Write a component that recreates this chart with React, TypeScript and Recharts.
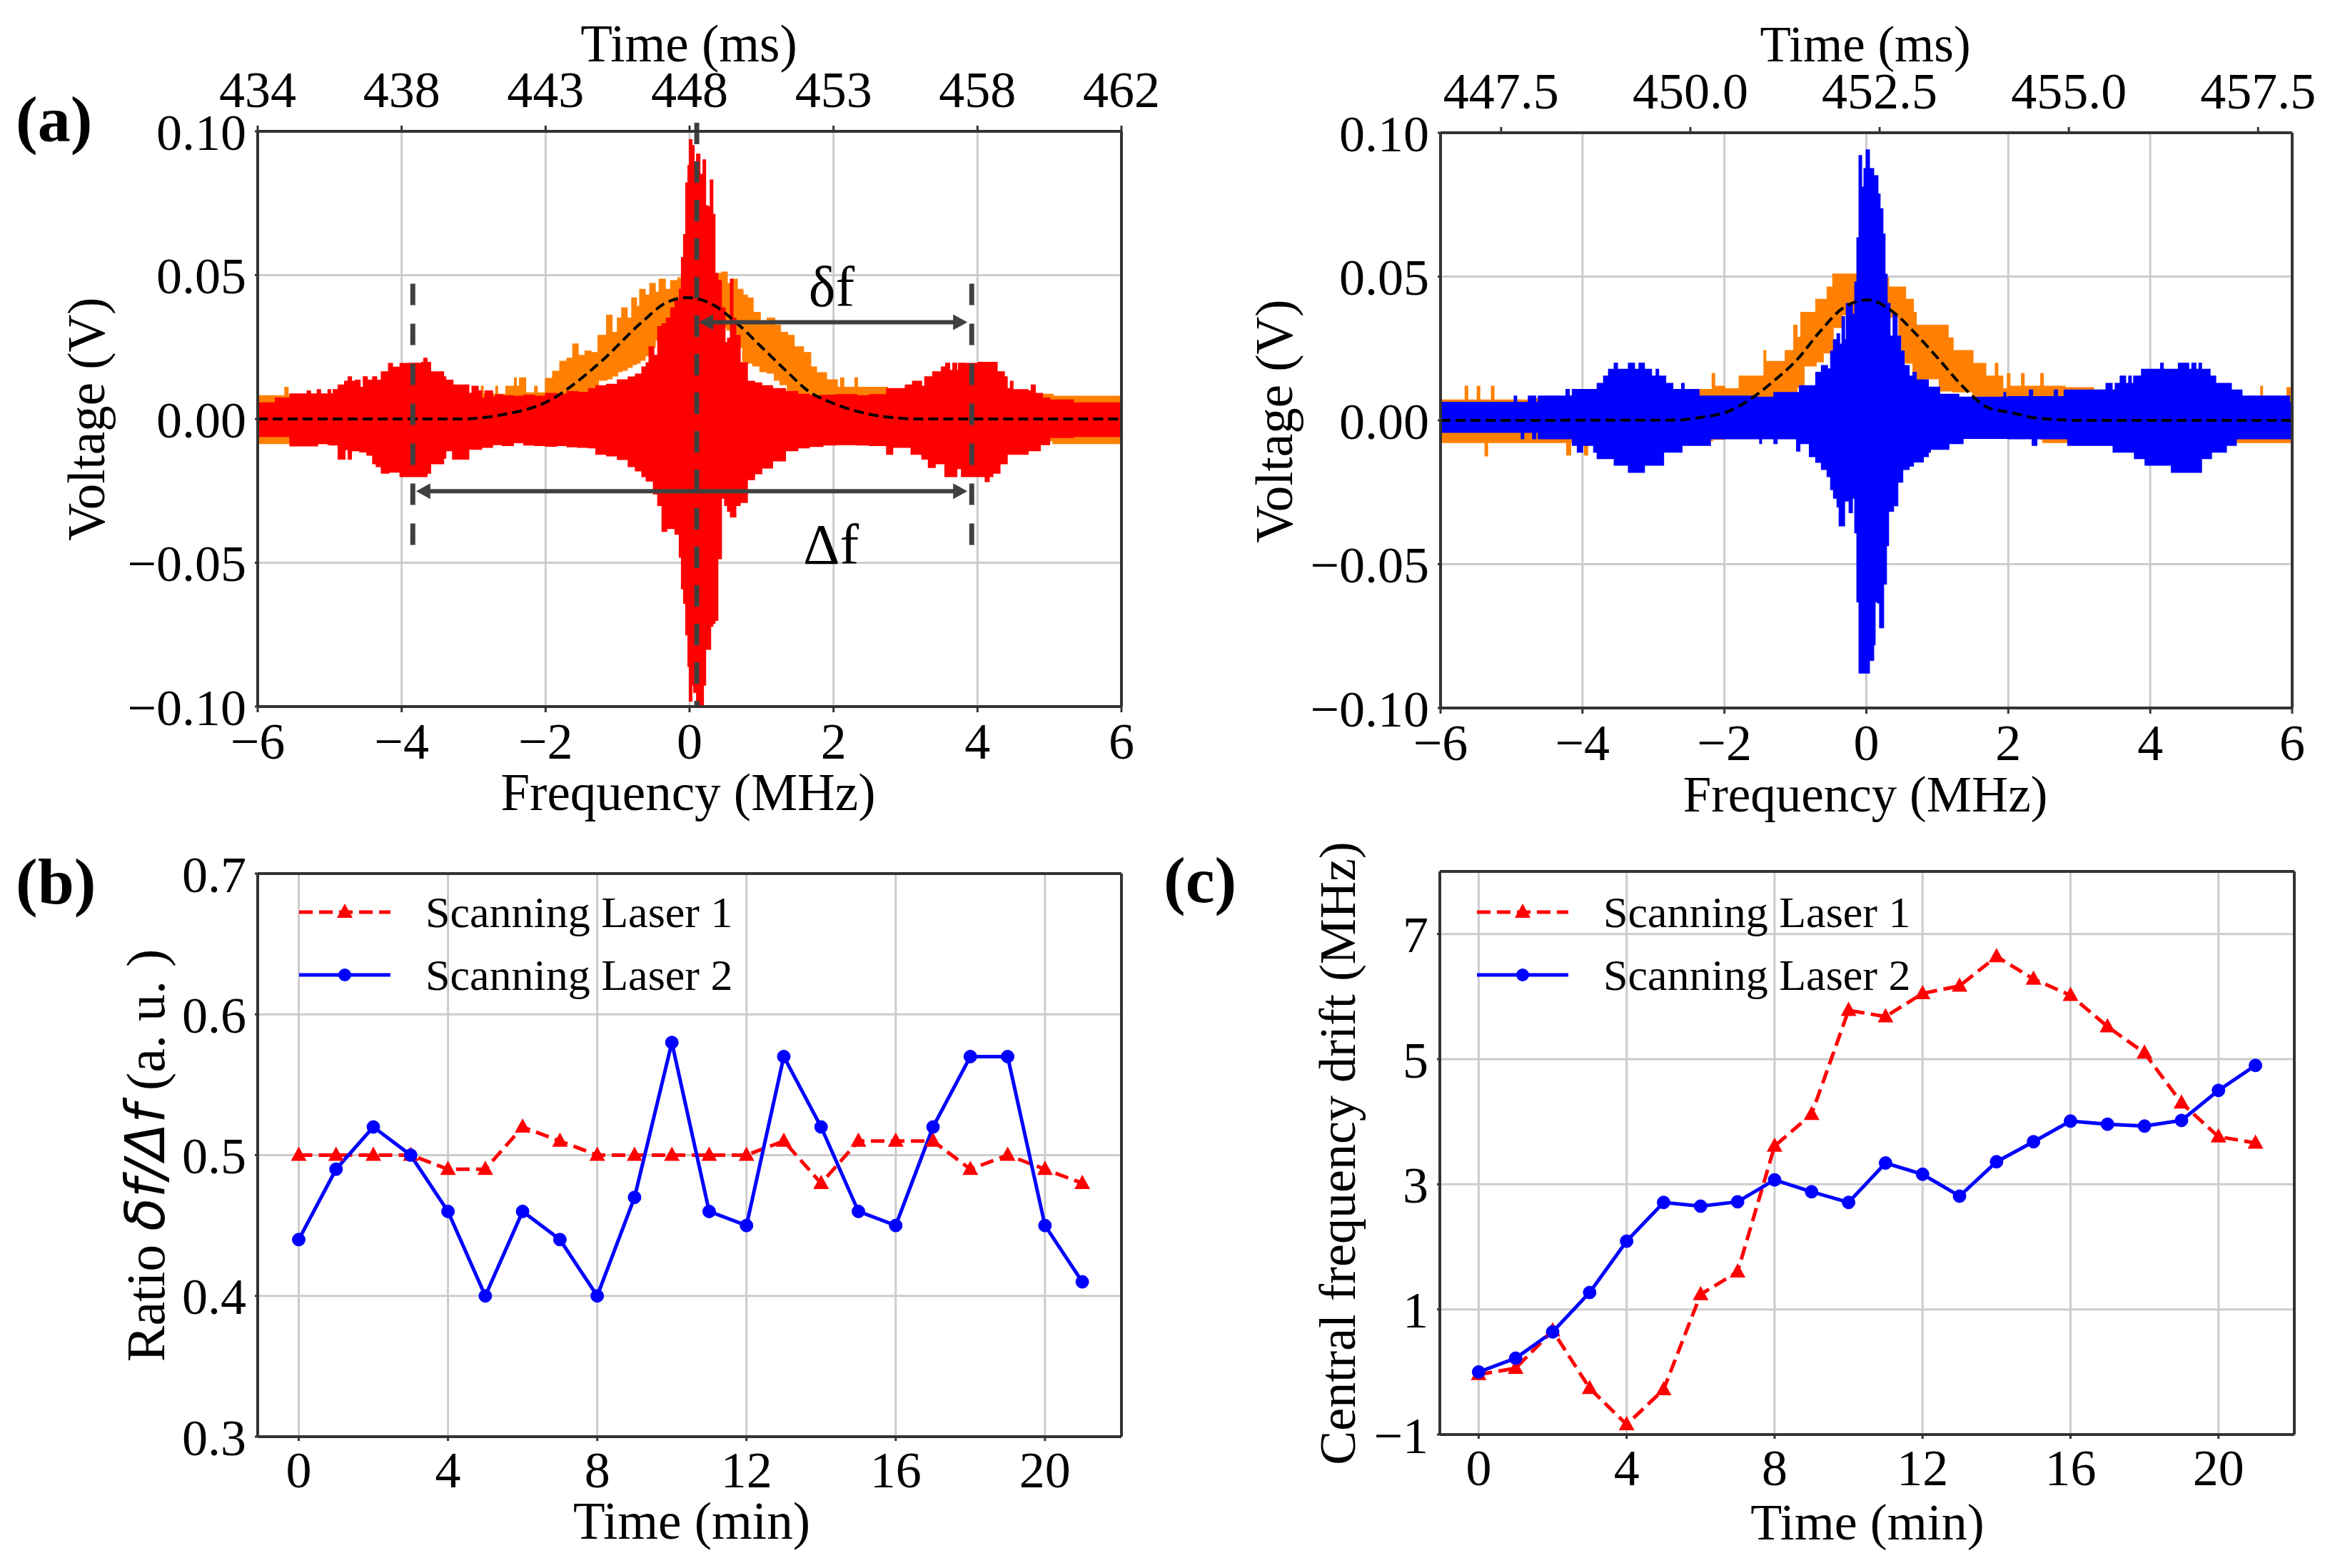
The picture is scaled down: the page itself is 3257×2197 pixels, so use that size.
import {
  Area,
  CartesianGrid,
  ComposedChart,
  Legend,
  Line,
  LineChart,
  ReferenceLine,
  XAxis,
  YAxis,
} from 'recharts'

// panel (a): envelope of the scanning trace
const redFreq = [
  -6, -5.75, -5.55, -5.31, -5.27, -5.17, -5.13, -5.02, -4.99, -4.95, -4.88, -4.79, -4.74, -4.7, -4.64, -4.58, -4.53,
  -4.48, -4.4, -4.35, -4.28, -4.18, -4.13, -4.02, -3.88, -3.72, -3.69, -3.65, -3.6, -3.42, -3.39, -3.29, -3.07, -3.02,
  -2.94, -2.89, -2.84, -2.74, -2.69, -2.6, -2.45, -2.3, -2.15, -2, -1.85, -1.7, -1.55, -1.4, -1.3, -1.15, -1, -0.85,
  -0.75, -0.66, -0.6, -0.56, -0.5, -0.44, -0.38, -0.32, -0.26, -0.2, -0.14, -0.11, -0.08, -0.05, -0.02, 0, 0.03, 0.06,
  0.1, 0.14, 0.19, 0.22, 0.26, 0.29, 0.32, 0.35, 0.39, 0.44, 0.49, 0.53, 0.57, 0.6, 0.64, 0.7, 0.8, 0.9, 1, 1.15, 1.33,
  1.5, 1.66, 1.85, 2.03, 2.32, 2.5, 2.74, 2.82, 3, 3.08, 3.1, 3.22, 3.23, 3.27, 3.32, 3.38, 3.41, 3.5, 3.55, 3.56, 3.61,
  3.66, 3.71, 3.74, 3.78, 3.83, 4.01, 4.11, 4.16, 4.21, 4.27, 4.31, 4.37, 4.41, 4.46, 4.49, 4.7, 4.75, 4.8, 4.87, 4.9,
  5, 5.33, 6,
]
const redHigh = [
  0.0055, 0.0072, 0.0086, 0.0097, 0.0086, 0.0101, 0.0086, 0.0101, 0.0086, 0.0101, 0.0117, 0.013, 0.0146, 0.013, 0.0134,
  0.0109, 0.0146, 0.0134, 0.0146, 0.0134, 0.0163, 0.0192, 0.0179, 0.0192, 0.0193, 0.0196, 0.021, 0.0196, 0.0163, 0.0146,
  0.0134, 0.0117, 0.0088, 0.0113, 0.0097, 0.0072, 0.0097, 0.0076, 0.0084, 0.008, 0.0078, 0.0082, 0.0078, 0.0088, 0.0085,
  0.0094, 0.0092, 0.0105, 0.0115, 0.012, 0.0135, 0.0145, 0.0155, 0.018, 0.0195, 0.025, 0.022, 0.032, 0.033, 0.035,
  0.0385, 0.041, 0.045, 0.056, 0.064, 0.082, 0.088, 0.097, 0.095, 0.088, 0.092, 0.085, 0.09, 0.074, 0.0735, 0.083, 0.071,
  0.0505, 0.048, 0.0385, 0.0265, 0.028, 0.0485, 0.035, 0.029, 0.0195, 0.013, 0.0125, 0.0115, 0.0105, 0.0095, 0.0085,
  0.008, 0.0082, 0.0084, 0.008, 0.0084, 0.0105, 0.0105, 0.0117, 0.0117, 0.013, 0.0113, 0.0113, 0.0146, 0.0146, 0.0163,
  0.0163, 0.018, 0.018, 0.0193, 0.0168, 0.0193, 0.0168, 0.0193, 0.0193, 0.0192, 0.0196, 0.0196, 0.0196, 0.0196, 0.0163,
  0.0163, 0.0146, 0.0105, 0.013, 0.0101, 0.0097, 0.0117, 0.0088, 0.0088, 0.0072, 0.0065, 0.0055, 0.0055,
]
const redLow = [
  -0.006, -0.006, -0.0093, -0.0093, -0.0093, -0.0085, -0.0085, -0.0089, -0.009, -0.009, -0.0139, -0.0106, -0.0139,
  -0.011, -0.011, -0.0114, -0.0114, -0.0125, -0.0155, -0.0165, -0.0188, -0.0184, -0.0184, -0.02, -0.02, -0.02, -0.02,
  -0.0188, -0.0155, -0.0136, -0.011, -0.0139, -0.0105, -0.0105, -0.0105, -0.0098, -0.0098, -0.0089, -0.0089, -0.0092,
  -0.0082, -0.009, -0.0092, -0.0094, -0.0092, -0.0096, -0.0098, -0.01, -0.0122, -0.0128, -0.014, -0.0165, -0.018, -0.02,
  -0.0215, -0.0215, -0.026, -0.03, -0.039, -0.038, -0.038, -0.04, -0.048, -0.059, -0.064, -0.075, -0.086, -0.098,
  -0.0925, -0.095, -0.099, -0.1, -0.0925, -0.08, -0.08, -0.072, -0.071, -0.07, -0.0485, -0.0275, -0.03, -0.032, -0.034,
  -0.034, -0.03, -0.029, -0.021, -0.019, -0.017, -0.0145, -0.011, -0.01, -0.0095, -0.009, -0.0089, -0.009, -0.0092,
  -0.0122, -0.0098, -0.0098, -0.0122, -0.0122, -0.0122, -0.0139, -0.0139, -0.0168, -0.0168, -0.0155, -0.0155, -0.02,
  -0.02, -0.02, -0.02, -0.0172, -0.0172, -0.02, -0.02, -0.02, -0.0217, -0.02, -0.0188, -0.0188, -0.0155, -0.0155,
  -0.0122, -0.0122, -0.0122, -0.011, -0.011, -0.011, -0.0089, -0.0089, -0.0064, -0.006, -0.0056,
]

const orangeFreq = [
  -6, -5.62, -5.58, -5.5, -3, -2.89, -2.87, -2.69, -2.67, -2.55, -2.43, -2.41, -2.36, -2.28, -2.15, -2.12, -2, -1.9, -1.8,
  -1.7, -1.62, -1.55, -1.45, -1.37, -1.27, -1.15, -1.08, -1, -0.94, -0.87, -0.8, -0.74, -0.69, -0.62, -0.55, -0.48,
  -0.42, -0.34, -0.26, -0.16, 0, 0.35, 0.45, 0.52, 0.59, 0.66, 0.74, 0.8, 0.88, 0.98, 1.08, 1.18, 1.26, 1.36, 1.45,
  1.58, 1.68, 1.76, 1.9, 2.05, 2.1, 2.14, 2.3, 2.33, 2.6, 2.75, 5.05, 6,
]
const orangeHigh = [
  0.008, 0.0109, 0.008, 0.0078, 0.0085, 0.0113, 0.0085, 0.0113, 0.0085, 0.0113, 0.0142, 0.0113, 0.0142, 0.009, 0.0113,
  0.009, 0.014, 0.0165, 0.02, 0.021, 0.026, 0.022, 0.0235, 0.023, 0.029, 0.036, 0.03, 0.035, 0.0385, 0.035, 0.042, 0.039,
  0.045, 0.043, 0.047, 0.044, 0.0485, 0.045, 0.048, 0.049, 0.05, 0.0505, 0.051, 0.047, 0.0485, 0.045, 0.043, 0.042,
  0.037, 0.033, 0.035, 0.0325, 0.03, 0.029, 0.025, 0.023, 0.018, 0.016, 0.0135, 0.0109, 0.0142, 0.0109, 0.0142, 0.0109,
  0.0109, 0.0085, 0.0078, 0.0078,
]
const orangeLow = [
  -0.0085, -0.0085, -0.0085, -0.0085, -0.0075, -0.0075, -0.0075, -0.0075, -0.0075, -0.0075, -0.007, -0.007, -0.0065,
  -0.006, -0.0055, -0.005, -0.003, 0, 0.002, 0.004, 0.005, 0.006, 0.008, 0.011, 0.0135, 0.014, 0.015, 0.0165, 0.017,
  0.018, 0.019, 0.0195, 0.0205, 0.022, 0.025, 0.0275, 0.03, 0.032, 0.033, 0.034, 0.034, 0.033, 0.032, 0.031, 0.03, 0.025,
  0.02, 0.0195, 0.0185, 0.0165, 0.016, 0.0135, 0.012, 0.01, 0.007, 0.004, 0.002, 0, -0.003, -0.005, -0.0055, -0.006,
  -0.0065, -0.0075, -0.0075, -0.0075, -0.0085, -0.0085,
]

const fitFreq = [-6, -3.2, -2.64, -1.98, -1.25, -0.66, -0.32, -0.03, 0.34, 0.67, 1, 1.33, 1.66, 2, 2.32, 2.7, 3.2, 6]
const fitVolt = [0, 0, 0.0013, 0.006, 0.0195, 0.0337, 0.0405, 0.0422, 0.0395, 0.033, 0.025, 0.017, 0.0095, 0.0054, 0.0027, 0.0008, 0, 0]

// right hand panel
const blueFreq = [
  -6, -4.96, -4.93, -4.86, -4.83, -4.76, -4.7, -4.66, -4.62, -4.23, -4.19, -4.14, -4.07, -4, -3.84, -3.79, -3.7, -3.63,
  -3.55, -3.51, -3.35, -3.27, -3.2, -3.13, -3.03, -2.96, -2.93, -2.86, -2.83, -2.73, -2.6, -2.57, -2.36, -2.2, -2.05,
  -1.55, -1.5, -1.48, -1.3, -1.26, -0.98, -0.94, -0.8, -0.71, -0.63, -0.55, -0.5, -0.46, -0.41, -0.38, -0.34, -0.31,
  -0.28, -0.24, -0.2, -0.16, -0.13, -0.1, -0.07, -0.03, 0, 0.04, 0.1, 0.12, 0.16, 0.19, 0.23, 0.24, 0.26, 0.28, 0.29,
  0.31, 0.33, 0.38, 0.43, 0.44, 0.48, 0.51, 0.53, 0.6, 0.66, 0.7, 0.8, 0.87, 0.9, 1.03, 1.16, 1.3, 1.36, 1.94, 1.96, 2,
  2.3, 2.34, 2.4, 2.65, 2.69, 2.79, 2.84, 3.38, 3.46, 3.48, 3.51, 3.58, 3.65, 3.7, 3.73, 3.77, 3.78, 3.88, 3.93, 4.15,
  4.18, 4.3, 4.4, 4.54, 4.59, 4.64, 4.69, 4.72, 4.84, 4.86, 4.92, 5.07, 5.14, 5.21, 5.29, 5.96, 6,
]
const blueHigh = [
  0.0062, 0.0084, 0.0062, 0.0062, 0.0062, 0.0084, 0.0084, 0.0062, 0.0084, 0.0107, 0.0084, 0.0107, 0.0107, 0.0107, 0.0107,
  0.0128, 0.0153, 0.0177, 0.0198, 0.0177, 0.0198, 0.0177, 0.0198, 0.0177, 0.0153, 0.0177, 0.0153, 0.0153, 0.0128, 0.0107,
  0.0128, 0.0107, 0.0084, 0.0084, 0.0084, 0.008, 0.008, 0.008, 0.0096, 0.0096, 0.0096, 0.012, 0.012, 0.0166, 0.019,
  0.0178, 0.024, 0.028, 0.03, 0.0264, 0.036, 0.028, 0.0406, 0.0406, 0.0368, 0.048, 0.0634, 0.092, 0.081, 0.0875, 0.094,
  0.0875, 0.085, 0.085, 0.0786, 0.0735, 0.0647, 0.0647, 0.0507, 0.0507, 0.0406, 0.0406, 0.0292, 0.0368, 0.0292, 0.0292,
  0.024, 0.024, 0.019, 0.0153, 0.0166, 0.014, 0.014, 0.0115, 0.0115, 0.009, 0.009, 0.008, 0.008, 0.0096, 0.008, 0.0082,
  0.0105, 0.0082, 0.0082, 0.0105, 0.0082, 0.0105, 0.0105, 0.0128, 0.0105, 0.0105, 0.0128, 0.0153, 0.0128, 0.0153, 0.0128,
  0.0153, 0.0153, 0.0177, 0.0177, 0.0198, 0.0177, 0.0177, 0.0198, 0.0177, 0.0198, 0.0177, 0.0198, 0.0177, 0.0153, 0.0153,
  0.0128, 0.0128, 0.0105, 0.0105, 0.0084, 0.0062, 0.0062,
]
const blueLow = [
  -0.0041, -0.0041, -0.0041, -0.0063, -0.0041, -0.0041, -0.0063, -0.0041, -0.0063, -0.0063, -0.0063, -0.0086, -0.011,
  -0.0086, -0.011, -0.0132, -0.0132, -0.0132, -0.0155, -0.0155, -0.018, -0.018, -0.018, -0.0155, -0.0155, -0.0155,
  -0.0155, -0.011, -0.011, -0.011, -0.0086, -0.0086, -0.0086, -0.0063, -0.0063, -0.0063, -0.008, -0.0063, -0.008, -0.0063,
  -0.0106, -0.008, -0.0125, -0.0145, -0.017, -0.0195, -0.024, -0.027, -0.03, -0.0366, -0.0366, -0.028, -0.028, -0.032,
  -0.027, -0.039, -0.063, -0.0878, -0.0878, -0.0878, -0.0878, -0.0834, -0.078, -0.063, -0.0634, -0.072, -0.072, -0.0568,
  -0.0568, -0.0435, -0.0435, -0.0315, -0.0315, -0.0296, -0.0296, -0.0214, -0.0214, -0.017, -0.017, -0.0158, -0.0144,
  -0.0144, -0.0125, -0.011, -0.01, -0.01, -0.008, -0.008, -0.0062, -0.0062, -0.0062, -0.0063, -0.0063, -0.0086, -0.0063,
  -0.0063, -0.0063, -0.0063, -0.0086, -0.0086, -0.0086, -0.011, -0.011, -0.011, -0.011, -0.011, -0.011, -0.011, -0.0132,
  -0.0132, -0.0155, -0.0155, -0.0155, -0.018, -0.018, -0.018, -0.018, -0.018, -0.018, -0.0132, -0.0132, -0.011, -0.011,
  -0.0086, -0.0086, -0.0063, -0.0063, -0.0063, -0.0063,
]

const orange2Freq = [
  -6, -5.65, -5.62, -5.48, -5.45, -5.37, -5.34, -5.28, -5.25, -4.76, -4.22, -4.17, -3.97, -3.93, -3.72, -3.68, -2.6, -2.35,
  -2.17, -2.14, -2, -1.79, -1.47, -1.44, -1.42, -1.14, -1.02, -0.98, -0.92, -0.88, -0.71, -0.61, -0.55, -0.47, -0.34, 0,
  0.27, 0.31, 0.46, 0.5, 0.55, 0.66, 0.7, 0.8, 1.03, 1.15, 1.22, 1.5, 1.68, 1.82, 1.85, 1.92, 1.99, 2.02, 2.19, 2.22, 2.46,
  2.49, 2.8, 3.2, 5, 5.56, 5.58, 5.93, 5.97, 6,
]
const orange2High = [
  0.007, 0.0118, 0.007, 0.0118, 0.007, 0.007, 0.007, 0.0118, 0.007, 0.0075, 0.0075, 0.0085, 0.0085, 0.0107, 0.0107, 0.0085,
  0.0085, 0.0107, 0.0162, 0.0118, 0.0109, 0.0153, 0.0153, 0.0242, 0.0204, 0.0242, 0.033, 0.0288, 0.0375, 0.0375, 0.042,
  0.042, 0.0463, 0.0508, 0.0508, 0.0508, 0.0495, 0.0463, 0.0463, 0.0463, 0.042, 0.0375, 0.033, 0.033, 0.033, 0.0286, 0.0242,
  0.0197, 0.0153, 0.0197, 0.0153, 0.0109, 0.0162, 0.0118, 0.0162, 0.0118, 0.0162, 0.0118, 0.0113, 0.0105, 0.008, 0.0118,
  0.0075, 0.0113, 0.0075, 0.0075,
]
const orange2Low = [
  -0.0076, -0.0076, -0.0076, -0.0076, -0.0076, -0.0123, -0.0076, -0.0076, -0.0076, -0.0076, -0.012, -0.0076, -0.012, -0.0076,
  -0.012, -0.0076, -0.0076, -0.007, -0.0065, -0.0065, -0.005, -0.004, 0.001, 0.003, 0.005, 0.008, 0.0095, 0.0115, 0.0125,
  0.019, 0.0204, 0.0235, 0.0235, 0.0324, 0.0368, 0.04, 0.039, 0.036, 0.028, 0.023, 0.02, 0.0155, 0.014, 0.0145, 0.0103,
  0.0103, 0.01, 0.0085, 0.005, 0.003, 0.002, -0.002, -0.004, -0.005, -0.006, -0.006, -0.0065, -0.0076, -0.0076, -0.0076,
  -0.0076, -0.0076, -0.0076, -0.0076, -0.0076, -0.0076,
]

const fit2Freq = [-6, -2.66, -2.32, -1.99, -1.65, -1.32, -0.98, -0.65, -0.31, 0.02, 0.36, 0.7, 1.03, 1.37, 1.7, 2.04, 2.4, 3, 6]
const fit2Volt = [0, 0.0001, 0.0011, 0.0027, 0.0071, 0.0134, 0.021, 0.031, 0.0394, 0.0419, 0.038, 0.03, 0.021, 0.0115, 0.0046, 0.0027, 0.0008, 0, 0]

// panels (b) and (c)
const minutes = [0, 1, 2, 3, 4, 5, 6, 7, 8, 9, 10, 11, 12, 13, 14, 15, 16, 17, 18, 19, 20, 21]
const ratioLaser1 = [0.5, 0.5, 0.5, 0.5, 0.49, 0.49, 0.52, 0.51, 0.5, 0.5, 0.5, 0.5, 0.5, 0.51, 0.48, 0.51, 0.51, 0.51, 0.49, 0.5, 0.49, 0.48]
const ratioLaser2 = [0.44, 0.49, 0.52, 0.5, 0.46, 0.4, 0.46, 0.44, 0.4, 0.47, 0.58, 0.46, 0.45, 0.57, 0.52, 0.46, 0.45, 0.52, 0.57, 0.57, 0.45, 0.41]
const driftLaser1 = [-0.04, 0.06, 0.66, -0.26, -0.84, -0.28, 1.24, 1.6, 3.61, 4.12, 5.78, 5.68, 6.05, 6.17, 6.64, 6.28, 6.02, 5.52, 5.1, 4.3, 3.76, 3.66]
const driftLaser2 = [0, 0.22, 0.64, 1.27, 2.09, 2.71, 2.65, 2.72, 3.07, 2.88, 2.71, 3.34, 3.16, 2.81, 3.36, 3.68, 4.01, 3.96, 3.93, 4.02, 4.5, 4.9]

// tick labels
const freqTicks = [-6, -4, -2, 0, 2, 4, 6]
const timeLabelsA = ['434', '438', '443', '448', '453', '458', '462']
const timeTicksRight = [447.5, 450, 452.5, 455, 457.5]
const voltTicks = [-0.1, -0.05, 0, 0.05, 0.1]
const minuteTicks = [0, 4, 8, 12, 16, 20]
const ratioTicks = [0.3, 0.4, 0.5, 0.6, 0.7]
const driftTicks = [-1, 1, 3, 5, 7]

const band = (freq: number[], high: number[], low: number[]) =>
  freq.map((f, i) => ({ f, band: [low[i], high[i]] }))
const curve = (freq: number[], volt: number[]) => freq.map((f, i) => ({ f, v: volt[i] }))

const redData = band(redFreq, redHigh, redLow)
const orangeData = band(orangeFreq, orangeHigh, orangeLow)
const fitData = curve(fitFreq, fitVolt)
const blueData = band(blueFreq, blueHigh, blueLow)
const orange2Data = band(orange2Freq, orange2High, orange2Low)
const fit2Data = curve(fit2Freq, fit2Volt)
const timeAnchor = timeTicksRight.map((time) => ({ time, v: 0 }))
const ratioData = minutes.map((t, i) => ({ t, laser1: ratioLaser1[i], laser2: ratioLaser2[i] }))
const driftData = minutes.map((t, i) => ({ t, laser1: driftLaser1[i], laser2: driftLaser2[i] }))

const SERIF = '"Liberation Serif", "Times New Roman", serif'
const FRAME = '#333333'
const GRID = '#cccccc'
const ANNOT = '#404040'
const tickStyle = { fontSize: 72, fontFamily: SERIF, fill: '#000' }
const tickLine = { stroke: FRAME, strokeWidth: 3 }
const axisLine = { stroke: FRAME, strokeWidth: 4 }

const minus = (s: string) => s.replace('-', '\u2212')

function Triangle({ cx, cy }: any) {
  return <path key={cx} d={`M${cx} ${cy - 12}L${cx + 11} ${cy + 8}L${cx - 11} ${cy + 8}Z`} fill="#ff0000" />
}

function Arrow({ x1, y1, x2, y2 }: any) {
  const left = Math.min(x1, x2)
  const right = Math.max(x1, x2)
  return (
    <g>
      <line x1={left + 12} y1={y1} x2={right - 12} y2={y2} stroke={ANNOT} strokeWidth={6} />
      <path d={`M${left} ${y1}L${left + 20} ${y1 - 11}L${left + 20} ${y1 + 11}Z`} fill={ANNOT} />
      <path d={`M${right} ${y1}L${right - 20} ${y1 - 11}L${right - 20} ${y1 + 11}Z`} fill={ANNOT} />
    </g>
  )
}

function LegendRows({ payload }: any) {
  return (
    <div style={{ fontFamily: SERIF, fontSize: 62, lineHeight: '88px' }}>
      {(payload || []).map((entry: any, i: number) => (
        <div key={entry.value} style={{ display: 'flex', alignItems: 'center', height: 88, whiteSpace: 'nowrap' }}>
          <svg width={177} height={40} style={{ flex: 'none' }}>
            <line
              x1={0}
              y1={20}
              x2={128}
              y2={20}
              stroke={entry.color}
              strokeWidth={5}
              strokeDasharray={i === 0 ? '19 9' : undefined}
            />
            {i === 0 ? (
              <Triangle cx={64} cy={20} />
            ) : (
              <circle cx={64} cy={20} r={9} fill={entry.color} />
            )}
          </svg>
          <span>{entry.value}</span>
        </div>
      ))}
    </div>
  )
}

// recharts drops an axis of size 0, so each axis gets 1px and the margins give that back.
// the top axes only draw their ticks when a series sits on them, hence the stroke="none" lines
function SpectrumLeft() {
  return (
    <ComposedChart width={1640} height={1180} margin={{ left: 360, right: 68, top: 183, bottom: 189 }}>
      <CartesianGrid stroke={GRID} strokeWidth={3} />
      <XAxis
        dataKey="f"
        type="number"
        domain={[-6, 6]}
        ticks={freqTicks}
        interval={0}
        allowDataOverflow
        height={1}
        tick={tickStyle}
        tickSize={8}
        tickMargin={14}
        tickLine={tickLine}
        axisLine={axisLine}
        tickFormatter={(v: number) => minus(String(v))}
      />
      <XAxis
        xAxisId="top"
        orientation="top"
        dataKey="f"
        type="number"
        domain={[-6, 6]}
        ticks={freqTicks}
        interval={0}
        allowDataOverflow
        height={1}
        tick={tickStyle}
        tickSize={8}
        tickMargin={26}
        tickLine={tickLine}
        axisLine={axisLine}
        tickFormatter={(_v: number, i: number) => timeLabelsA[i]}
      />
      <YAxis
        type="number"
        domain={[-0.1, 0.1]}
        ticks={voltTicks}
        interval={0}
        allowDataOverflow
        width={1}
        tick={tickStyle}
        tickSize={4}
        tickMargin={12}
        tickLine={tickLine}
        axisLine={axisLine}
        tickFormatter={(v: number) => minus(v.toFixed(2))}
      />
      <YAxis yAxisId="right" orientation="right" type="number" domain={[-0.1, 0.1]} allowDataOverflow width={1} tick={false} tickLine={false} axisLine={axisLine} />
      <Area data={orangeData} dataKey="band" type="stepAfter" stroke="#ff8000" strokeWidth={2} fill="#ff8000" fillOpacity={1} isAnimationActive={false} dot={false} activeDot={false} />
      <Area data={redData} dataKey="band" type="stepAfter" stroke="#ff0000" strokeWidth={2} fill="#ff0000" fillOpacity={1} isAnimationActive={false} dot={false} activeDot={false} />
      <Line data={fitData} dataKey="v" type="monotone" stroke="#000" strokeWidth={4} strokeDasharray="14 7" dot={false} activeDot={false} isAnimationActive={false} />
      <Line xAxisId="top" data={fitData} dataKey="v" stroke="none" dot={false} activeDot={false} isAnimationActive={false} />
      <ReferenceLine segment={[{ x: -3.845, y: 0.047 }, { x: -3.845, y: -0.044 }]} ifOverflow="visible" stroke={ANNOT} strokeWidth={7} strokeDasharray="30 26" />
      <ReferenceLine segment={[{ x: 0.1, y: 0.103 }, { x: 0.1, y: -0.1 }]} ifOverflow="visible" stroke={ANNOT} strokeWidth={7} strokeDasharray="30 24" />
      <ReferenceLine segment={[{ x: 3.92, y: 0.047 }, { x: 3.92, y: -0.044 }]} ifOverflow="visible" stroke={ANNOT} strokeWidth={7} strokeDasharray="30 26" />
      <ReferenceLine segment={[{ x: 0.13, y: 0.0336 }, { x: 3.86, y: 0.0336 }]} ifOverflow="visible" shape={Arrow} />
      <ReferenceLine segment={[{ x: -3.8, y: -0.0251 }, { x: 3.86, y: -0.0251 }]} ifOverflow="visible" shape={Arrow} />
    </ComposedChart>
  )
}

function SpectrumRight() {
  return (
    <ComposedChart width={1617} height={1180} margin={{ left: 377, right: 45, top: 185, bottom: 187 }}>
      <CartesianGrid stroke={GRID} strokeWidth={3} />
      <XAxis
        dataKey="f"
        type="number"
        domain={[-6, 6]}
        ticks={freqTicks}
        interval={0}
        allowDataOverflow
        height={1}
        tick={tickStyle}
        tickSize={8}
        tickMargin={14}
        tickLine={tickLine}
        axisLine={axisLine}
        tickFormatter={(v: number) => minus(String(v))}
      />
      <XAxis
        xAxisId="top"
        orientation="top"
        dataKey="time"
        type="number"
        domain={[446.7, 457.95]}
        ticks={timeTicksRight}
        interval={0}
        allowDataOverflow
        height={1}
        tick={tickStyle}
        tickSize={8}
        tickMargin={26}
        tickLine={tickLine}
        axisLine={axisLine}
        tickFormatter={(v: number) => v.toFixed(1)}
      />
      <YAxis
        type="number"
        domain={[-0.1, 0.1]}
        ticks={voltTicks}
        interval={0}
        allowDataOverflow
        width={1}
        tick={tickStyle}
        tickSize={4}
        tickMargin={12}
        tickLine={tickLine}
        axisLine={axisLine}
        tickFormatter={(v: number) => minus(v.toFixed(2))}
      />
      <YAxis yAxisId="right" orientation="right" type="number" domain={[-0.1, 0.1]} allowDataOverflow width={1} tick={false} tickLine={false} axisLine={axisLine} />
      <Area data={orange2Data} dataKey="band" type="stepAfter" stroke="#ff8000" strokeWidth={2} fill="#ff8000" fillOpacity={1} isAnimationActive={false} dot={false} activeDot={false} />
      <Area data={blueData} dataKey="band" type="stepAfter" stroke="#0000ff" strokeWidth={2} fill="#0000ff" fillOpacity={1} isAnimationActive={false} dot={false} activeDot={false} />
      <Line data={fit2Data} dataKey="v" type="monotone" stroke="#000" strokeWidth={4} strokeDasharray="14 7" dot={false} activeDot={false} isAnimationActive={false} />
      <Line xAxisId="top" data={timeAnchor} dataKey="v" stroke="none" dot={false} activeDot={false} isAnimationActive={false} />
    </ComposedChart>
  )
}

function TrendChart({ data, width, margin, xDomain, yDomain, yTicks, format, legendLeft }: any) {
  return (
    <LineChart width={width} height={1017} data={data} margin={margin}>
      <CartesianGrid stroke={GRID} strokeWidth={3} />
      <XAxis
        dataKey="t"
        type="number"
        domain={xDomain}
        ticks={minuteTicks}
        interval={0}
        allowDataOverflow
        height={1}
        tick={tickStyle}
        tickSize={6}
        tickMargin={14}
        tickLine={tickLine}
        axisLine={axisLine}
      />
      <XAxis xAxisId="top" orientation="top" dataKey="t" type="number" domain={xDomain} allowDataOverflow height={1} tick={false} tickLine={false} axisLine={axisLine} />
      <YAxis
        type="number"
        domain={yDomain}
        ticks={yTicks}
        interval={0}
        allowDataOverflow
        width={1}
        tick={tickStyle}
        tickSize={4}
        tickMargin={12}
        tickLine={tickLine}
        axisLine={axisLine}
        tickFormatter={format}
      />
      <YAxis yAxisId="right" orientation="right" type="number" domain={yDomain} allowDataOverflow width={1} tick={false} tickLine={false} axisLine={axisLine} />
      <Legend
        layout="vertical"
        align="center"
        verticalAlign="middle"
        content={LegendRows}
        wrapperStyle={{ left: legendLeft, top: 54, width: 640, height: 176, transform: 'none' }}
      />
      <Line name="Scanning Laser 1" dataKey="laser1" stroke="#ff0000" strokeWidth={5} strokeDasharray="19 9" dot={Triangle} activeDot={false} isAnimationActive={false} />
      <Line name="Scanning Laser 2" dataKey="laser2" stroke="#0000ff" strokeWidth={5} dot={{ r: 9, fill: '#0000ff', stroke: '#0000ff', strokeWidth: 1 }} activeDot={false} isAnimationActive={false} />
    </LineChart>
  )
}

const titleStyle = { fontSize: 73, fontFamily: SERIF, fill: '#000', textAnchor: 'middle' } as const
const titleRight = { ...titleStyle, fontSize: 71 }
const letterStyle = { fontSize: 92, fontFamily: SERIF, fontWeight: 700, fill: '#000' } as const

export default function App() {
  return (
    <div style={{ position: 'absolute', left: 0, top: 0, width: 3257, height: 2197, background: '#fff', overflow: 'hidden' }}>
      <div style={{ position: 'absolute', left: 0, top: 0 }}>
        <SpectrumLeft />
      </div>
      <div style={{ position: 'absolute', left: 1640, top: 0 }}>
        <SpectrumRight />
      </div>
      <div style={{ position: 'absolute', left: 0, top: 1180 }}>
        <TrendChart
          data={ratioData}
          width={1640}
          margin={{ left: 360, right: 68, top: 43, bottom: 183 }}
          xDomain={[-1.1, 22.05]}
          yDomain={[0.3, 0.7]}
          yTicks={ratioTicks}
          format={(v: number) => v.toFixed(1)}
          legendLeft={419}
        />
      </div>
      <div style={{ position: 'absolute', left: 1640, top: 1180 }}>
        <TrendChart
          data={driftData}
          width={1617}
          margin={{ left: 376, right: 42, top: 40, bottom: 186 }}
          xDomain={[-1.05, 22.05]}
          yDomain={[-1, 8]}
          yTicks={driftTicks}
          format={(v: number) => minus(String(v))}
          legendLeft={429}
        />
      </div>
      <svg width={3257} height={2197} style={{ position: 'absolute', left: 0, top: 0, pointerEvents: 'none' }}>
        <text x={22} y={198} style={letterStyle}>(a)</text>
        <text x={22} y={1266} style={letterStyle}>(b)</text>
        <text x={1630} y={1264} style={letterStyle}>(c)</text>

        <text x={965} y={86} style={titleStyle}>Time (ms)</text>
        <text x={964} y={1135} style={titleStyle}>Frequency (MHz)</text>
        <text transform="translate(146 587) rotate(-90)" style={titleStyle}>Voltage (V)</text>
        <text x={1165} y={429} style={{ ...titleStyle, fontSize: 80 }}>δf</text>
        <text x={1164} y={790} style={{ ...titleStyle, fontSize: 80 }}>Δf</text>

        <text x={2613} y={86} style={titleRight}>Time (ms)</text>
        <text x={2613} y={1137} style={titleRight}>Frequency (MHz)</text>
        <text transform="translate(1810 590) rotate(-90)" style={titleStyle}>Voltage (V)</text>

        <text x={969} y={2156} style={titleStyle}>Time (min)</text>
        <text transform="translate(230 1619) rotate(-90)" style={{ ...titleStyle, fontSize: 76 }}>
          Ratio <tspan fontFamily="DejaVu Sans" fontStyle="oblique">δf/Δf</tspan> (a. u. )
        </text>

        <text x={2616} y={2157} style={{ ...titleStyle, fontSize: 72 }}>Time (min)</text>
        <text transform="translate(1898 1616) rotate(-90)" style={{ ...titleStyle, fontSize: 72 }}>Central frequency drift (MHz)</text>
      </svg>
    </div>
  )
}
